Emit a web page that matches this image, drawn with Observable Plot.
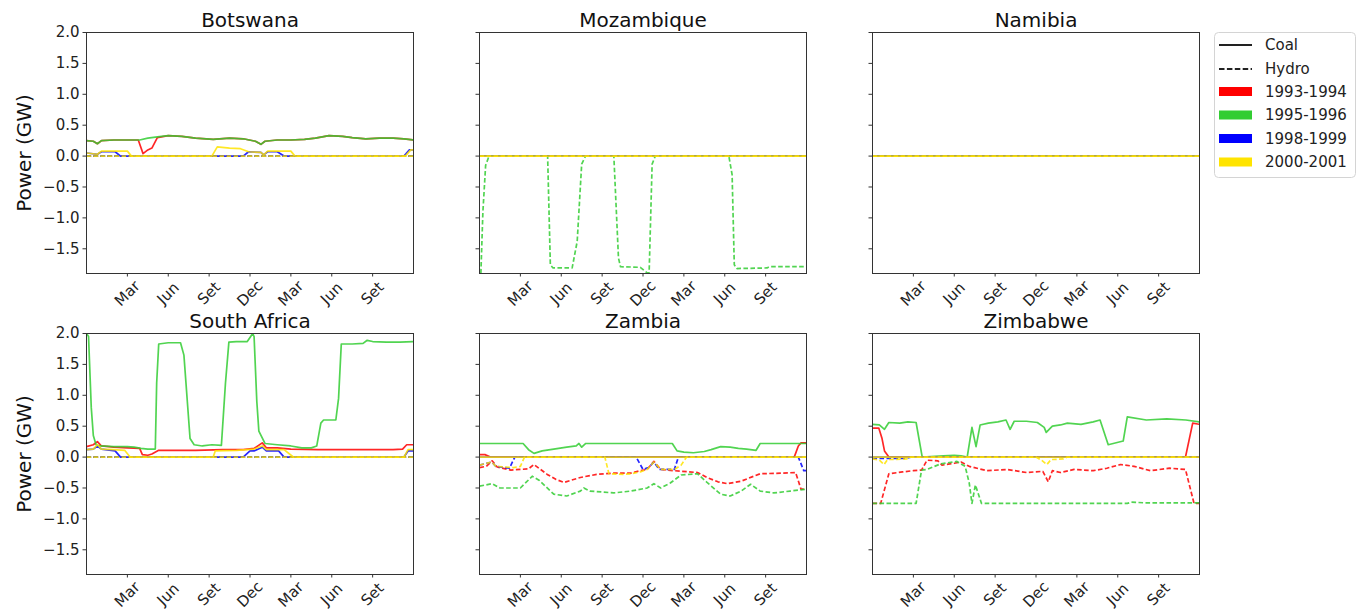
<!DOCTYPE html>
<html><head><meta charset="utf-8">
<script src="https://cdn.jsdelivr.net/npm/d3@7"></script>
<script src="https://cdn.jsdelivr.net/npm/@observablehq/plot@0.6"></script>
<style>
body{margin:0;background:#fff;font-family:"DejaVu Sans",sans-serif;}
#chart{position:relative;width:1359px;height:611px;overflow:hidden;background:#fff;}
#chart > svg, #chart > figure{position:absolute;margin:0;}
</style>
</head><body>
<div id="chart"></div>
<script>
const countries = ["Botswana", "Mozambique", "Namibia", "South Africa", "Zambia", "Zimbabwe"];
const periods = ["1993-1994", "1995-1996", "1998-1999", "2000-2001"];
const periodColors = ["#ff0000", "#32cd32", "#0000ff", "#ffe400"];
const tickMonths = [3, 6, 9, 12, 15, 18, 21];
const tickLabels = ["Mar", "Jun", "Set", "Dec", "Mar", "Jun", "Set"];
const yTicks = [-1.5, -1.0, -0.5, 0.0, 0.5, 1.0, 1.5, 2.0];
const zero = [[0, 0], [24, 0]];

// [month, GW] points
const bwCoal93 = [[0,0.25],[0.5,0.24],[0.8,0.2],[1.1,0.25],[2,0.26],[3,0.26],[3.8,0.26],[4.15,0.04],[4.5,0.1],[4.8,0.13],[5.2,0.3],[6,0.33],[7,0.32],[8,0.29],[9.3,0.27],[10.5,0.29],[11.5,0.28],[12.4,0.24],[12.8,0.19],[13.1,0.24],[14,0.26],[15,0.26],[16,0.27],[16.8,0.29],[17.8,0.33],[18.8,0.32],[19.5,0.3],[20.5,0.28],[21.5,0.29],[22.5,0.29],[23.3,0.28],[24,0.26]];
const bwCoal95 = [[0,0.25],[0.5,0.24],[0.8,0.2],[1.1,0.25],[2,0.26],[3,0.26],[3.9,0.26],[4.5,0.29],[5.2,0.31],[6,0.33],[7,0.32],[8,0.29],[9.3,0.27],[10.5,0.29],[11.5,0.28],[12.4,0.24],[12.8,0.19],[13.1,0.24],[14,0.26],[15,0.26],[16,0.27],[16.8,0.29],[17.8,0.33],[18.8,0.32],[19.5,0.3],[20.5,0.28],[21.5,0.29],[22.5,0.29],[23.3,0.28],[24,0.26]];
const bwCoal98 = [[0,0.05],[0.8,0.03],[1.1,0.07],[2.1,0.07],[2.5,0],[11.5,0],[11.9,0.07],[12.8,0.06],[13.0,0.02],[13.3,0.07],[14.0,0.07],[14.5,0],[23.3,0],[23.7,0.1],[24,0.1]];
const bwCoal00 = [[0,0.05],[0.8,0.03],[1.1,0.08],[3.0,0.08],[3.3,0],[9.2,0],[9.6,0.15],[10.5,0.13],[11.3,0.12],[11.9,0.07],[12.8,0.06],[13.0,0.02],[13.3,0.08],[15.0,0.08],[15.3,0],[23.4,0],[23.8,0.1],[24,0.1]];

const mzHydro95 = [[0.1,-1.9],[0.25,-0.9],[0.45,-0.15],[0.7,0],[5.0,0],[5.2,-1.76],[5.4,-1.81],[6.8,-1.81],[7.17,-1.38],[7.5,-0.13],[7.78,0],[9.86,0],[10.2,-1.65],[10.35,-1.79],[11.8,-1.8],[12.3,-1.89],[12.45,-1.89],[12.67,-0.13],[12.9,0],[18.3,0],[18.54,-0.3],[18.7,-1.76],[18.9,-1.82],[21.1,-1.81],[21.3,-1.79],[24,-1.79]];

const saCoal93 = [[0,0.17],[0.5,0.2],[0.8,0.25],[1.1,0.18],[2,0.16],[3,0.15],[3.9,0.14],[4.1,0.04],[4.5,0.03],[4.8,0.05],[5.3,0.11],[6,0.11],[8,0.11],[10,0.12],[11.5,0.12],[12.3,0.14],[12.9,0.23],[13.2,0.15],[14,0.15],[15,0.13],[17,0.12],[19,0.12],[21,0.12],[22.5,0.12],[23.2,0.13],[23.5,0.2],[24,0.2]];
const saCoal95 = [[0,2.0],[0.15,1.95],[0.35,0.8],[0.5,0.35],[0.7,0.2],[1.0,0.18],[2,0.17],[3,0.17],[3.5,0.16],[4.0,0.14],[4.5,0.13],[5.05,0.13],[5.15,1.2],[5.3,1.83],[6,1.85],[6.9,1.85],[7.15,1.65],[7.4,0.9],[7.6,0.3],[7.9,0.2],[8.5,0.18],[9.2,0.2],[9.9,0.19],[10.2,1.2],[10.45,1.86],[11,1.87],[11.8,1.87],[12.2,2.0],[12.3,1.95],[12.5,0.9],[12.65,0.42],[13.1,0.22],[14,0.2],[15,0.18],[15.8,0.15],[16.5,0.15],[16.9,0.18],[17.2,0.55],[17.4,0.6],[18.3,0.6],[18.5,0.95],[18.7,1.83],[19.5,1.83],[20.3,1.84],[20.6,1.89],[21,1.87],[22,1.86],[23,1.86],[24,1.87]];
const saCoal98 = [[0,0.12],[0.5,0.13],[0.8,0.18],[1.1,0.13],[2.1,0.1],[2.5,0],[11.5,0],[12,0.1],[12.3,0.1],[12.9,0.16],[13.2,0.1],[14.1,0.1],[14.5,0],[23.3,0],[23.6,0.1],[24,0.1]];
const saCoal00 = [[0,0.12],[0.5,0.13],[0.8,0.2],[1.1,0.13],[2,0.12],[2.8,0.11],[3.2,0],[9.3,0],[9.45,0.1],[11,0.11],[12.3,0.13],[12.9,0.18],[13.2,0.12],[14.5,0.12],[14.9,0.05],[15.2,0],[23.3,0],[23.6,0.12],[24,0.12]];

const zmCoal93 = [[0,0.04],[0.4,0.04],[0.8,0],[23.1,0],[23.4,0.18],[23.6,0.23],[24,0.23]];
const zmCoal95 = [[0,0.22],[3.2,0.22],[3.6,0.12],[4.0,0.06],[4.6,0.1],[5.45,0.13],[6.4,0.16],[7.1,0.18],[7.3,0.22],[7.5,0.16],[7.8,0.22],[14.15,0.22],[14.5,0.1],[15.0,0.08],[15.7,0.07],[16.5,0.09],[17.0,0.12],[17.7,0.17],[18.4,0.16],[19.0,0.14],[19.6,0.13],[20.3,0.11],[20.6,0.22],[24,0.22]];
const zmHydro93 = [[0,-0.17],[0.5,-0.15],[0.93,-0.06],[1.3,-0.16],[2.3,-0.21],[3.6,-0.19],[4.0,-0.12],[4.97,-0.28],[5.6,-0.36],[6.2,-0.41],[7.4,-0.33],[8.6,-0.28],[9.86,-0.26],[11.1,-0.26],[11.8,-0.22],[12.3,-0.2],[12.8,-0.07],[13.3,-0.2],[14.3,-0.22],[16.0,-0.25],[16.7,-0.33],[17.5,-0.4],[18.2,-0.43],[19.2,-0.39],[20.0,-0.32],[20.6,-0.27],[22.1,-0.26],[23.2,-0.25],[23.6,-0.52],[24,-0.52]];
const zmHydro95 = [[0,-0.47],[0.93,-0.43],[1.5,-0.5],[3.0,-0.5],[3.87,-0.31],[4.4,-0.38],[5.45,-0.6],[6.4,-0.63],[7.4,-0.55],[7.66,-0.5],[8.1,-0.55],[9.86,-0.58],[11.1,-0.55],[12.3,-0.5],[12.8,-0.43],[13.3,-0.5],[14.0,-0.42],[14.8,-0.29],[16.0,-0.27],[16.7,-0.41],[17.7,-0.6],[18.4,-0.63],[19.2,-0.55],[19.9,-0.44],[20.6,-0.55],[21.6,-0.58],[22.8,-0.55],[24,-0.52]];
const zmHydro98 = [[0,-0.13],[0.9,-0.08],[1.2,-0.15],[2.2,-0.18],[2.5,-0.04],[2.6,0],[11.5,0],[12.0,-0.2],[12.4,-0.17],[12.8,-0.08],[13.2,-0.2],[14.3,-0.2],[14.6,0],[23.4,0],[23.8,-0.22],[24,-0.22]];
const zmHydro00 = [[0,-0.13],[0.9,-0.08],[1.2,-0.15],[2.5,-0.17],[3.0,-0.15],[3.3,0],[9.2,0],[9.5,-0.27],[10.6,-0.28],[11.1,-0.27],[11.8,-0.24],[12.3,-0.2],[12.8,-0.08],[13.3,-0.2],[14.3,-0.2],[14.8,-0.13],[15.2,0],[24,0]];

const zwCoal93 = [[0,0.47],[0.46,0.47],[0.7,0.3],[0.88,0.1],[1.2,0],[22.97,0],[23.5,0.55],[24,0.53]];
const zwCoal95 = [[0,0.53],[0.5,0.52],[0.88,0.45],[1.2,0.56],[2,0.55],[2.6,0.57],[3.2,0.56],[3.65,0],[5.2,0.02],[6.0,0.03],[6.5,0.02],[6.95,0],[7.3,0.48],[7.6,0.17],[7.9,0.52],[8.5,0.55],[9.2,0.57],[9.8,0.6],[10.1,0.45],[10.4,0.58],[11.3,0.58],[12.1,0.56],[12.6,0.48],[12.75,0.4],[13.2,0.5],[13.8,0.52],[14.3,0.55],[15.3,0.53],[16.2,0.57],[16.7,0.6],[17.3,0.2],[18.4,0.26],[18.7,0.65],[20.1,0.6],[21.6,0.62],[23.0,0.6],[24,0.57]];
const zwHydro93 = [[0,-0.75],[0.6,-0.75],[1.2,-0.27],[2.2,-0.24],[3.0,-0.22],[3.6,-0.21],[4.0,-0.05],[4.8,-0.06],[5.1,-0.13],[6.0,-0.1],[6.5,-0.08],[7.1,-0.15],[8.4,-0.22],[9.9,-0.2],[11.3,-0.25],[12.5,-0.23],[12.9,-0.4],[13.2,-0.22],[13.8,-0.25],[14.8,-0.2],[16.2,-0.22],[17.2,-0.18],[18.2,-0.12],[19.2,-0.15],[20.4,-0.22],[21.8,-0.18],[22.97,-0.2],[23.6,-0.75],[24,-0.75]];
const zwHydro95 = [[0,-0.75],[3.2,-0.75],[3.6,-0.21],[4.0,-0.2],[5.0,-0.11],[6.2,-0.07],[6.8,-0.15],[7.1,-0.42],[7.3,-0.75],[7.55,-0.45],[8.0,-0.75],[18.7,-0.75],[19.0,-0.73],[20,-0.74],[24,-0.74]];
const zwHydro98 = [[0,-0.02],[2.5,-0.02],[2.8,0],[24,0]];
const zwHydro00 = [[0,-0.03],[0.5,-0.05],[0.85,-0.12],[1.1,-0.04],[2.5,-0.03],[2.8,0],[12.0,0],[12.4,-0.05],[12.8,-0.12],[13.1,-0.04],[14.0,-0.03],[14.3,0],[24,0]];

const coalSeries = [
  [bwCoal93, bwCoal95, bwCoal98, bwCoal00],
  [zero, zero, zero, zero],
  [zero, zero, zero, zero],
  [saCoal93, saCoal95, saCoal98, saCoal00],
  [zmCoal93, zmCoal95, zero, zero],
  [zwCoal93, zwCoal95, zero, zero]
];
const hydroSeries = [
  [zero, zero, zero, zero],
  [zero, mzHydro95, zero, zero],
  [zero, zero, zero, zero],
  [zero, zero, zero, zero],
  [zmHydro93, zmHydro95, zmHydro98, zmHydro00],
  [zwHydro93, zwHydro95, zwHydro98, zwHydro00]
];

const FRAME_W = 327, FRAME_H = 241;
const ML = 86, MT = 32, MR = 12;
const colLeft = [0, 393, 786];
const rowTop = [0, 301];
const rowMB = [50, 37];
const chart = document.getElementById("chart");
const font = "'DejaVu Sans', sans-serif";
const DASH = "4.6,2.4";

countries.forEach((country, i) => {
  const col = i % 3, row = Math.floor(i / 3);
  const marks = [];
  for (let p = 0; p < periods.length; p++) {
    marks.push(Plot.line(coalSeries[i][p], {x: d => d[0], y: d => d[1], stroke: periodColors[p], strokeWidth: 1.7, strokeOpacity: 0.85, clip: true}));
    marks.push(Plot.line(hydroSeries[i][p], {x: d => d[0], y: d => d[1], stroke: periodColors[p], strokeWidth: 1.7, strokeOpacity: 0.85, strokeDasharray: DASH, strokeLinecap: "butt", clip: true}));
  }
  marks.push(Plot.frame({stroke: "#333", strokeWidth: 1}));
  marks.push(Plot.axisY({ticks: yTicks, tickSize: 3.5, tickPadding: 3.5, fill: "#222", stroke: "#333",
    tickFormat: col === 0 ? d3.format(".1f") : () => ""}));
  marks.push(Plot.axisX({ticks: tickMonths, tickSize: 3.5, stroke: "#333", tickFormat: () => ""}));
  marks.push(Plot.text(tickMonths, {x: d => d, text: (d, j) => tickLabels[j], frameAnchor: "bottom", dy: 20,
    rotate: -45, textAnchor: "middle", lineAnchor: "middle", fontSize: 15, fill: "#222"}));
  marks.push(Plot.text([country], {text: d => d, frameAnchor: "top", dy: -6, lineAnchor: "bottom", fontSize: 20, fill: "#111"}));
  if (col === 0) {
    marks.push(Plot.text(["Power (GW)"], {text: d => d, frameAnchor: "left", dx: -62, rotate: -90,
      textAnchor: "middle", lineAnchor: "middle", fontSize: 20, fill: "#111"}));
  }
  const MB = rowMB[row];
  const svg = Plot.plot({
    width: ML + FRAME_W + MR, height: MT + FRAME_H + MB,
    marginLeft: ML, marginRight: MR, marginTop: MT, marginBottom: MB,
    x: {domain: [0, 24], axis: null},
    y: {domain: [-1.9, 2.0], axis: null},
    style: {background: "transparent", fontFamily: font, fontSize: "15px", overflow: "visible", color: "#222"},
    marks
  });
  svg.style.left = colLeft[col] + "px";
  svg.style.top = rowTop[row] + "px";
  chart.appendChild(svg);
});

// legend
const legendItems = ["Coal", "Hydro", ...periods];
const ns = "http://www.w3.org/2000/svg";
const lg = document.createElementNS(ns, "svg");
lg.setAttribute("width", 142); lg.setAttribute("height", 146);
lg.style.left = "1214px"; lg.style.top = "32px"; lg.style.position = "absolute";
lg.style.fontFamily = font;
const rowY = [13, 37, 59.5, 83, 106.5, 130];
let html = `<rect x="0.5" y="0.5" width="141" height="145" rx="4" fill="#fff" stroke="#d4d4d4"/>`;
legendItems.forEach((label, k) => {
  const y = rowY[k];
  if (k === 0) html += `<line x1="5" x2="38" y1="${y}" y2="${y}" stroke="#222" stroke-width="2"/>`;
  else if (k === 1) html += `<line x1="5" x2="38" y1="${y}" y2="${y}" stroke="#222" stroke-width="2" stroke-dasharray="5.5,2.4"/>`;
  else html += `<rect x="5" y="${y - 4.5}" width="33" height="9" fill="${periodColors[k - 2]}"/>`;
  html += `<text x="51" y="${y}" dy="0.35em" font-size="15" fill="#222">${label}</text>`;
});
lg.innerHTML = html;
chart.appendChild(lg);
</script>
</body></html>
